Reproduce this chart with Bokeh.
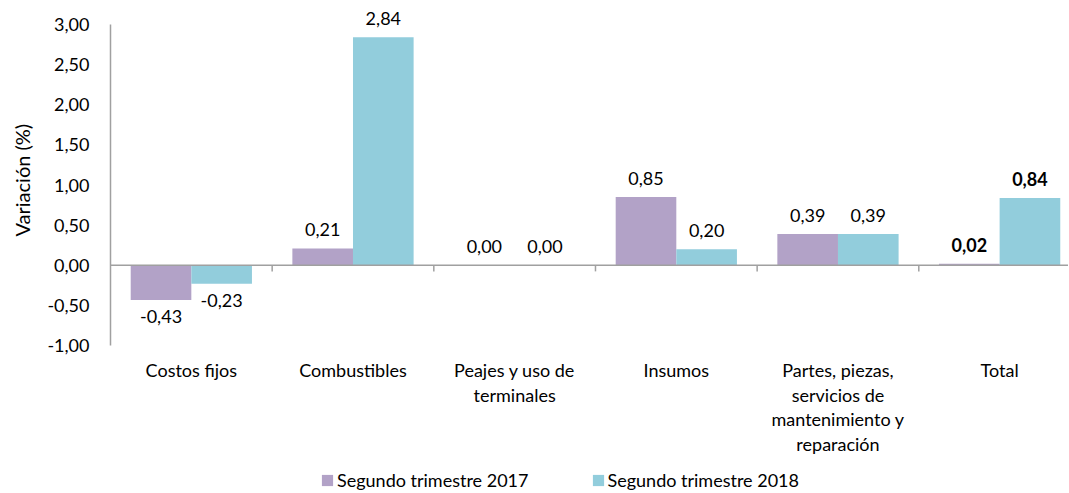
from bokeh.plotting import figure
from bokeh.models import (ColumnDataSource, Range1d, FixedTicker, CustomJSTickFormatter,
                          Span, Legend, LegendItem, Title)
from bokeh.core.properties import value
from bokeh.embed import file_html
from bokeh.resources import INLINE

categories = ["Costos fijos", "Combustibles", "Peajes y uso de\nterminales", "Insumos",
              "Partes, piezas,\nservicios de\nmantenimiento y\nreparación", "Total"]
series_names = ["Segundo trimestre 2017", "Segundo trimestre 2018"]
values_2017 = [-0.43, 0.21, 0.00, 0.85, 0.39, 0.02]
values_2018 = [-0.23, 2.84, 0.00, 0.20, 0.39, 0.84]
y_ticks = [-1.0, -0.5, 0.0, 0.5, 1.0, 1.5, 2.0, 2.5, 3.0]
y_title = "Variación (%)"

FONT = "Lato"
FS = "18px"
PURPLE = "#B2A2C7"
BLUE = "#92CDDC"
GRAY = "#A0A0A0"

W, H = 1068, 492
p = figure(width=W, height=H, output_backend="svg", toolbar_location=None,
           x_range=Range1d(0, 5.926), y_range=Range1d(-2.829, 3.249),
           min_border_left=110, min_border_right=0, min_border_top=4,
           min_border_bottom=0)

n = len(categories)
centers = [i + 0.5 for i in range(n)]
bw = 0.375
x17 = [c - bw / 2 for c in centers]
x18 = [c + bw / 2 for c in centers]

r17 = p.vbar(x=x17, top=values_2017, bottom=0, width=bw, fill_color=PURPLE, line_color=None)
r18 = p.vbar(x=x18, top=values_2018, bottom=0, width=bw, fill_color=BLUE, line_color=None)

p.add_layout(Span(location=0, dimension="width", line_color=GRAY, line_width=1.5))
bounds = list(range(1, n))
p.segment(x0=bounds, y0=[0] * len(bounds), x1=bounds, y1=[-0.075] * len(bounds),
          line_color=GRAY, line_width=1.5)


def fmt(v):
    return f"{v:.2f}".replace(".", ",")


lx = x17 + x18
ly = values_2017 + values_2018
src = ColumnDataSource(dict(
    x=lx, y=ly, text=[fmt(v) for v in ly],
    off=[-19 if v >= 0 else 17 for v in ly],
    style=["bold" if i % n == n - 1 else "normal" for i in range(2 * n)],
))
p.text(x="x", y="y", text="text", y_offset="off", text_font_style="style", source=src,
       text_font=value(FONT), text_font_size=FS, text_align="center",
       text_baseline="middle", text_color="black")

# category labels below the value axis
y_min = y_ticks[0]
p.text(x=centers, y=[y_min] * n, text=categories, y_offset=13,
       text_font=value(FONT), text_font_size=FS, text_align="center",
       text_baseline="top", text_line_height=1.13, text_color="black")

p.xaxis.visible = False

p.yaxis.ticker = FixedTicker(ticks=y_ticks)
p.yaxis.bounds = (y_ticks[0], y_ticks[-1])
p.yaxis.formatter = CustomJSTickFormatter(code="return tick.toFixed(2).replace('.', ',');")
p.yaxis.minor_tick_line_color = None
p.yaxis.major_tick_out = 0
p.yaxis.major_tick_in = 0
p.yaxis.axis_line_color = GRAY
p.yaxis.axis_line_width = 1.5
p.yaxis.major_label_standoff = 21
p.yaxis.major_label_text_font = FONT
p.yaxis.major_label_text_font_size = FS
p.yaxis.major_label_text_color = "black"

p.add_layout(Title(text=y_title, align="left", vertical_align="top", offset=256,
                   standoff=18, text_font=FONT, text_font_size="20px",
                   text_font_style="normal", text_color="black"), "left")

p.xgrid.visible = False
p.ygrid.visible = False
p.outline_line_color = None

legend = Legend(items=[LegendItem(label=series_names[0], renderers=[r17]),
                       LegendItem(label=series_names[1], renderers=[r18])],
                location=(210, 1), orientation="horizontal",
                glyph_width=14, glyph_height=14, label_standoff=3, spacing=62,
                padding=0, margin=0, border_line_alpha=0, background_fill_alpha=0,
                label_text_font=FONT, label_text_font_size=FS, label_height=14,
                label_text_color="black")
p.add_layout(legend)

open("out.html", "w").write(file_html(p, INLINE))
